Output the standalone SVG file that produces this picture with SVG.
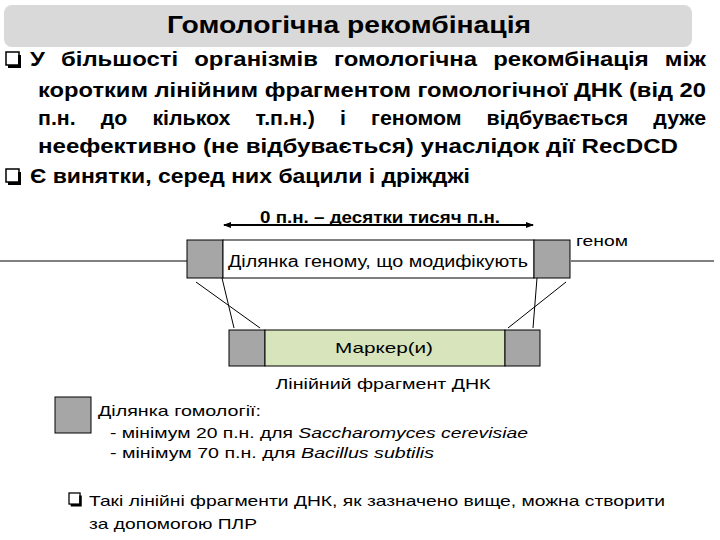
<svg xmlns="http://www.w3.org/2000/svg" width="720" height="540" viewBox="0 0 720 540">
<style>
text{font-family:"Liberation Sans",Arial,sans-serif;fill:#000}
.b{font-weight:bold;font-size:20px}
.m{font-size:16px;font-weight:bold}
.s{font-size:15px}
.g{fill:#a6a6a6;stroke:#000;stroke-width:1}
.bx{fill:#fff;stroke:#000;stroke-width:1}
.l{stroke:#000;stroke-width:1;fill:none}
</style>
<defs>
<marker id="ah" markerWidth="8" markerHeight="8" refX="7" refY="4" orient="auto-start-reverse" markerUnits="userSpaceOnUse"><path d="M0,1 L8,4 L0,7 Z" fill="#000"/></marker>
<g id="q"><rect x="0" y="0" width="13" height="13" fill="#fff" stroke="#000" stroke-width="1.5"/><path d="M13.5,3 V14.5 H2" stroke="#000" stroke-width="3" fill="none"/></g>
</defs>
<rect width="720" height="540" fill="#fff"/>
<g id="title"><rect x="4" y="5" width="688" height="42" rx="8" fill="#d9d9d9"/>
<text x="349" y="33" text-anchor="middle" style="font-size:23px;font-weight:bold" textLength="364" lengthAdjust="spacingAndGlyphs">Гомологічна рекомбінація</text></g>
<g id="bullets">
<use href="#q" x="6" y="52"/>
<text class="b" x="30" y="66" textLength="676" lengthAdjust="spacingAndGlyphs" word-spacing="8">У більшості організмів гомологічна рекомбінація між</text>
<text class="b" x="38" y="97" textLength="668" lengthAdjust="spacingAndGlyphs">коротким лінійним фрагментом гомологічної ДНК (від 20</text>
<text class="b" x="38" y="125" textLength="668" lengthAdjust="spacingAndGlyphs" word-spacing="18">п.н. до кількох т.п.н.) і геномом відбувається дуже</text>
<text class="b" x="38" y="153" textLength="640" lengthAdjust="spacingAndGlyphs">неефективно (не відбувається)  унаслідок дії RecDCD</text>
<use href="#q" x="6" y="169"/>
<text class="b" x="30" y="183" textLength="440" lengthAdjust="spacingAndGlyphs">Є винятки, серед них бацили і дріжджі</text>
</g>
<g id="connectors">
<line class="l" x1="0" y1="261" x2="187" y2="261"/>
<line class="l" x1="571" y1="261" x2="714" y2="261"/>
<line x1="224" y1="225" x2="533" y2="225" stroke="#000" stroke-width="2" marker-start="url(#ah)" marker-end="url(#ah)"/>
<line class="l" x1="222" y1="278" x2="234" y2="328" stroke-width="0.6"/>
<line class="l" x1="196" y1="282" x2="260" y2="328" stroke-width="0.6"/>
<line class="l" x1="537" y1="278" x2="533" y2="328" stroke-width="0.6"/>
<line class="l" x1="566" y1="282" x2="508" y2="328" stroke-width="0.6"/>
</g>
<g id="range"><text x="380" y="223" text-anchor="middle" class="m" textLength="240" lengthAdjust="spacingAndGlyphs">0 п.н. – десятки тисяч п.н.</text></g>
<g id="genome">
<rect class="g" x="187" y="240" width="36" height="38"/>
<rect class="bx" x="223" y="240" width="311" height="38"/>
<rect class="g" x="534" y="240" width="36" height="38"/>
<text x="378" y="267" text-anchor="middle" class="m" style="font-weight:normal" textLength="300" lengthAdjust="spacingAndGlyphs">Ділянка геному, що модифікують</text>
<text x="576" y="246" class="s" textLength="52" lengthAdjust="spacingAndGlyphs">геном</text>
</g>
<g id="fragment">
<rect class="g" x="229" y="330" width="36" height="36"/>
<rect x="265" y="330" width="240" height="36" fill="#d7e4bc" stroke="#000"/>
<rect class="g" x="505" y="330" width="35" height="36"/>
<text x="384" y="353" text-anchor="middle" class="s" textLength="98" lengthAdjust="spacingAndGlyphs">Маркер(и)</text>
<text x="383" y="389" text-anchor="middle" class="s" textLength="215" lengthAdjust="spacingAndGlyphs">Лінійний фрагмент ДНК</text>
</g>
<g id="legend">
<rect class="g" x="55" y="397" width="36" height="36"/>
<text x="98" y="416" class="s" textLength="163" lengthAdjust="spacingAndGlyphs">Ділянка гомології:</text>
<text x="110" y="438" class="s" textLength="418" lengthAdjust="spacingAndGlyphs">- мінімум 20 п.н. для <tspan font-style="italic">Saccharomyces cerevisiae</tspan></text>
<text x="110" y="458" class="s" textLength="324" lengthAdjust="spacingAndGlyphs">- мінімум 70 п.н. для <tspan font-style="italic">Bacillus subtilis</tspan></text>
</g>
<g id="note">
<use href="#q" transform="translate(69 493) scale(0.85)"/>
<text x="89" y="506" class="s" textLength="576" lengthAdjust="spacingAndGlyphs">Такі лінійні фрагменти ДНК, як зазначено вище, можна створити</text>
<text x="89" y="529" class="s" textLength="168" lengthAdjust="spacingAndGlyphs">за допомогою ПЛР</text>
</g>
</svg>
